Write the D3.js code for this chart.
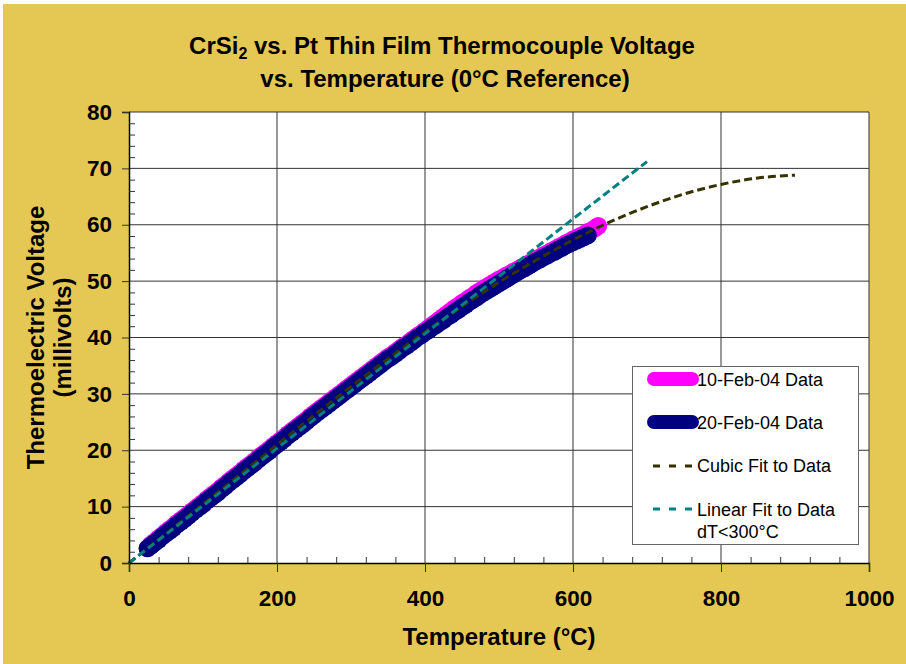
<!DOCTYPE html>
<html>
<head>
<meta charset="utf-8">
<script src="https://cdn.jsdelivr.net/npm/d3@7"></script>
<style>
  body { margin: 0; background: #fff; }
  svg text { font-family: "Liberation Sans", Arial, sans-serif; fill: #000; }
</style>
</head>
<body>
<div id="chart"></div>
<script>
// 10-Feb-04 run (magenta)
var febTenT = [28, 30, 35, 40, 45, 50, 55, 60, 65, 70, 75, 80, 85, 90, 95, 100, 105, 110, 115, 120, 125,
  130, 135, 140, 145, 150, 155, 160, 165, 170, 175, 180, 185, 190, 195, 200, 205, 210, 215, 220, 225,
  230, 235, 240, 245, 250, 255, 260, 265, 270, 275, 280, 285, 290, 295, 300, 305, 310, 315, 320, 325,
  330, 335, 340, 345, 350, 355, 360, 365, 370, 375, 380, 385, 390, 395, 400, 405, 410, 415, 420, 425,
  430, 435, 440, 445, 450, 455, 460, 465, 470, 475, 480, 485, 490, 495, 500, 505, 510, 515, 520, 525,
  530, 535, 540, 545, 550, 555, 560, 565, 570, 575, 580, 585, 590, 595, 600, 605, 610, 615, 620, 625,
  630, 634];
var febTenV = [3.0, 3.3, 3.8, 4.4, 4.9, 5.5, 6.0, 6.5, 7.1, 7.6, 8.1, 8.6, 9.2, 9.7, 10.2, 10.7, 11.3, 11.8, 12.3, 12.8, 13.4,
  13.9, 14.5, 15.0, 15.5, 16.0, 16.6, 17.1, 17.6, 18.1, 18.7, 19.2, 19.7, 20.2, 20.8, 21.3, 21.8, 22.3, 22.9, 23.4, 23.9,
  24.4, 24.9, 25.4, 26.0, 26.5, 27.0, 27.5, 28.0, 28.5, 29.0, 29.5, 30.0, 30.5, 31.0, 31.5, 32.0, 32.5, 33.0, 33.5, 34.0,
  34.5, 35.0, 35.5, 36.0, 36.5, 36.9, 37.4, 37.9, 38.4, 38.8, 39.3, 39.8, 40.3, 40.7, 41.2, 41.7, 42.2, 42.7, 43.2, 43.7,
  44.2, 44.7, 45.2, 45.6, 46.1, 46.5, 47.0, 47.4, 47.9, 48.3, 48.7, 49.1, 49.5, 49.9, 50.3, 50.6, 51.0, 51.3, 51.7, 52.0,
  52.4, 52.7, 53.1, 53.5, 53.9, 54.2, 54.6, 54.9, 55.3, 55.6, 56.0, 56.3, 56.7, 57.0, 57.4, 57.7, 58.0, 58.3, 58.7, 59.0,
  59.4, 59.8];

// 20-Feb-04 run (navy)
var febTwentyT = [25, 30, 35, 40, 45, 50, 55, 60, 65, 70, 75, 80, 85, 90, 95, 100, 105, 110, 115, 120, 125,
  130, 135, 140, 145, 150, 155, 160, 165, 170, 175, 180, 185, 190, 195, 200, 205, 210, 215, 220, 225,
  230, 235, 240, 245, 250, 255, 260, 265, 270, 275, 280, 285, 290, 295, 300, 305, 310, 315, 320, 325,
  330, 335, 340, 345, 350, 355, 360, 365, 370, 375, 380, 385, 390, 395, 400, 405, 410, 415, 420, 425,
  430, 435, 440, 445, 450, 455, 460, 465, 470, 475, 480, 485, 490, 495, 500, 505, 510, 515, 520, 525,
  530, 535, 540, 545, 550, 555, 560, 565, 570, 575, 580, 585, 590, 595, 600, 605, 610, 615, 620];
var febTwentyV = [2.6, 3.1, 3.6, 4.1, 4.7, 5.2, 5.7, 6.2, 6.8, 7.3, 7.8, 8.3, 8.9, 9.4, 9.9, 10.4, 11.0, 11.5, 12.0, 12.5, 13.1,
  13.6, 14.2, 14.7, 15.2, 15.7, 16.3, 16.8, 17.3, 17.8, 18.4, 18.9, 19.4, 19.9, 20.5, 21.0, 21.5, 22.0, 22.6, 23.1, 23.6,
  24.1, 24.6, 25.1, 25.7, 26.2, 26.7, 27.2, 27.7, 28.2, 28.7, 29.2, 29.7, 30.2, 30.7, 31.2, 31.7, 32.2, 32.7, 33.2, 33.7,
  34.2, 34.7, 35.2, 35.7, 36.2, 36.6, 37.1, 37.6, 38.1, 38.5, 39.0, 39.5, 40.0, 40.4, 40.9, 41.3, 41.8, 42.2, 42.7, 43.1,
  43.6, 44.0, 44.5, 44.9, 45.4, 45.8, 46.3, 46.7, 47.1, 47.6, 48.0, 48.4, 48.8, 49.2, 49.6, 50.0, 50.4, 50.8, 51.2, 51.6,
  52.0, 52.3, 52.7, 53.1, 53.5, 53.8, 54.2, 54.5, 54.9, 55.2, 55.6, 55.9, 56.3, 56.6, 56.9, 57.2, 57.5, 57.8, 58.1];

// cubic fit curve
var cubicT = [0, 50, 100, 150, 200, 250, 300, 350, 400, 450, 500, 550, 600, 650, 700, 750, 800, 850, 900];
var cubicV = [0, 5.2, 10.45, 15.7, 21.0, 26.2, 31.3, 36.25, 41.0, 45.5, 49.8, 53.7, 57.3, 60.5, 63.2, 65.45, 67.15, 68.3, 68.8];

// linear fit (dT<300°C)
var linearT = [0, 700];
var linearV = [0, 71.2];

var xTicks = [0, 200, 400, 600, 800, 1000];
var yTicks = [0, 10, 20, 30, 40, 50, 60, 70, 80];

var W = 906, H = 664;
var svg = d3.select("#chart").append("svg")
  .attr("width", W)
  .attr("height", H);

svg.append("rect")
  .attr("x", 3).attr("y", 4)
  .attr("width", W - 3).attr("height", H - 4)
  .style("fill", "#E5C853");

var x = d3.scaleLinear().domain([0, 1000]).range([129, 869]);
var y = d3.scaleLinear().domain([0, 80]).range([563, 112]);

// plot area
svg.append("rect")
  .attr("x", x(0)).attr("y", y(80))
  .attr("width", x(1000) - x(0)).attr("height", y(0) - y(80))
  .style("fill", "#fff");

// gridlines
var grid = svg.append("g");
grid.selectAll(".hg").data(yTicks.slice(1)).enter().append("line")
  .attr("x1", x(0)).attr("x2", x(1000))
  .attr("y1", function(d) { return y(d); })
  .attr("y2", function(d) { return y(d); })
  .style("stroke", "#333").style("stroke-width", 1);
grid.selectAll(".vg").data(xTicks.slice(1)).enter().append("line")
  .attr("y1", y(0)).attr("y2", y(80))
  .attr("x1", function(d) { return x(d); })
  .attr("x2", function(d) { return x(d); })
  .style("stroke", "#333").style("stroke-width", 1);

// data markers
function pairs(t, v) { return t.map(function(d, i) { return [d, v[i]]; }); }

svg.append("g").selectAll("circle")
  .data(pairs(febTenT, febTenV)).enter().append("circle")
  .attr("cx", function(d) { return x(d[0]); })
  .attr("cy", function(d) { return y(d[1]); })
  .attr("r", 9)
  .style("fill", "#FF00FF");

svg.append("g").selectAll("circle")
  .data(pairs(febTwentyT, febTwentyV)).enter().append("circle")
  .attr("cx", function(d) { return x(d[0]); })
  .attr("cy", function(d) { return y(d[1]); })
  .attr("r", 9)
  .style("fill", "#000080");

// fit lines
var line = d3.line()
  .x(function(d) { return x(d[0]); })
  .y(function(d) { return y(d[1]); })
  .curve(d3.curveMonotoneX);

svg.append("path")
  .attr("d", line(pairs(cubicT, cubicV)))
  .style("fill", "none")
  .style("stroke", "#333300")
  .style("stroke-width", 3)
  .style("stroke-dasharray", "8 4");

svg.append("path")
  .attr("d", line(pairs(linearT, linearV)))
  .style("fill", "none")
  .style("stroke", "#008080")
  .style("stroke-width", 3)
  .style("stroke-dasharray", "8 4");

// axes
var yMinor = d3.range(0, 81, 2).filter(function(d) { return d % 10 != 0; });
var xMinor = d3.range(0, 1001, 40).filter(function(d) { return d % 200 != 0; });

var yax = svg.append("g")
  .attr("transform", "translate(" + x(0) + ",0)")
  .call(d3.axisLeft(y).tickValues(yTicks).tickSize(7).tickPadding(10).tickFormat(d3.format("d")));
svg.append("g")
  .attr("transform", "translate(" + x(0) + ",0)")
  .call(d3.axisRight(y).tickValues(yMinor).tickSize(6).tickFormat(""))
  .select(".domain").remove();

var xax = svg.append("g")
  .attr("transform", "translate(0," + y(0) + ")")
  .call(d3.axisBottom(x).tickValues(xTicks).tickSize(9).tickPadding(18).tickFormat(d3.format("d")));
svg.append("g")
  .attr("transform", "translate(0," + y(0) + ")")
  .call(d3.axisTop(x).tickValues(xMinor).tickSize(6).tickFormat(""))
  .select(".domain").remove();

svg.selectAll(".domain").style("stroke", "#000").style("stroke-width", 1.5);
svg.selectAll(".tick line").style("stroke", "#333");
yax.selectAll("text").style("font-size", "22.5px").style("font-weight", "bold")
  .style("font-family", "'Liberation Sans', Arial, sans-serif");
xax.selectAll("text").style("font-size", "22.5px").style("font-weight", "bold")
  .style("font-family", "'Liberation Sans', Arial, sans-serif");

// titles
var title = svg.append("text")
  .attr("x", 442).attr("y", 54)
  .attr("text-anchor", "middle")
  .style("font-size", "24px").style("font-weight", "bold");
title.append("tspan").text("CrSi");
title.append("tspan").text("2").attr("dy", 5).style("font-size", "16px");
title.append("tspan").text(" vs. Pt Thin Film Thermocouple Voltage").attr("dy", -5);

svg.append("text")
  .attr("x", 445).attr("y", 87)
  .attr("text-anchor", "middle")
  .style("font-size", "24px").style("font-weight", "bold")
  .text("vs. Temperature (0°C Reference)");

svg.append("text")
  .attr("x", (x(0) + x(1000)) / 2).attr("y", 645)
  .attr("text-anchor", "middle")
  .style("font-size", "24px").style("font-weight", "bold")
  .text("Temperature (°C)");

svg.append("text")
  .attr("transform", "translate(44," + (y(40)) + ") rotate(-90)")
  .attr("text-anchor", "middle")
  .style("font-size", "24px").style("font-weight", "bold")
  .text("Thermoelectric Voltage");
svg.append("text")
  .attr("transform", "translate(71," + (y(40)) + ") rotate(-90)")
  .attr("text-anchor", "middle")
  .style("font-size", "24px").style("font-weight", "bold")
  .text("(millivolts)");

// legend
var legend = svg.append("g");
legend.append("rect")
  .attr("x", 632.5).attr("y", 366.5)
  .attr("width", 226).attr("height", 178)
  .style("fill", "#fff").style("stroke", "#666").style("stroke-width", 1);

var legItems = [
  {label: ["10-Feb-04 Data"], color: "#FF00FF", kind: "band", ly: 379, ty: 386},
  {label: ["20-Feb-04 Data"], color: "#000080", kind: "band", ly: 422, ty: 429},
  {label: ["Cubic Fit to Data"], color: "#333300", kind: "dash", ly: 466, ty: 472},
  {label: ["Linear Fit to Data", "dT<300°C"], color: "#008080", kind: "dash", ly: 509, ty: 516}
];

legItems.forEach(function(it) {
  if (it.kind == "band") {
    legend.append("line")
      .attr("x1", 654).attr("x2", 692)
      .attr("y1", it.ly).attr("y2", it.ly)
      .style("stroke", it.color).style("stroke-width", 14)
      .style("stroke-linecap", "round");
  } else {
    legend.append("line")
      .attr("x1", 653).attr("x2", 692)
      .attr("y1", it.ly).attr("y2", it.ly)
      .style("stroke", it.color).style("stroke-width", 3)
      .style("stroke-dasharray", "7 9");
  }
  it.label.forEach(function(s, i) {
    legend.append("text")
      .attr("x", 697).attr("y", it.ty + i * 22)
      .style("font-size", "18px")
      .text(s);
  });
});
</script>
</body>
</html>
